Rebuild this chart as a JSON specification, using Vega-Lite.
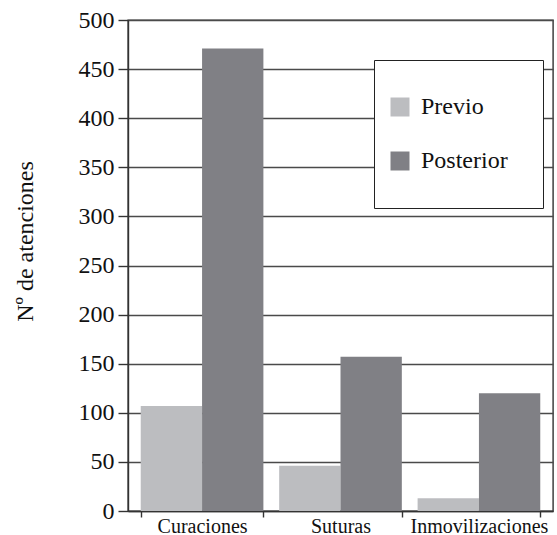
{
  "$schema": "https://vega.github.io/schema/vega-lite/v6.json",
  "description": "Nº de atenciones previo y posterior",
  "width": 425,
  "height": 491,
  "autosize": {"type": "none"},
  "padding": {"left": 128, "top": 20, "right": 4, "bottom": 24},
  "data": {
    "values": [
      {"tipo": "Curaciones", "momento": "Previo", "atenciones": 107},
      {"tipo": "Curaciones", "momento": "Posterior", "atenciones": 471},
      {"tipo": "Suturas", "momento": "Previo", "atenciones": 46},
      {"tipo": "Suturas", "momento": "Posterior", "atenciones": 157},
      {"tipo": "Inmovilizaciones", "momento": "Previo", "atenciones": 13},
      {"tipo": "Inmovilizaciones", "momento": "Posterior", "atenciones": 120}
    ]
  },
  "mark": {"type": "bar"},
  "encoding": {
    "x": {
      "field": "tipo",
      "type": "nominal",
      "sort": ["Curaciones", "Suturas", "Inmovilizaciones"],
      "scale": {"paddingInner": 0.114, "paddingOuter": 0.092},
      "axis": {
        "title": null,
        "labelAngle": 0,
        "tickBand": "extent",
        "tickSize": 6,
        "labelPadding": -1,
        "labelFontSize": 20,
        "labelFont": "Liberation Serif",
        "grid": false
      }
    },
    "xOffset": {"field": "momento", "sort": ["Previo", "Posterior"]},
    "y": {
      "field": "atenciones",
      "type": "quantitative",
      "scale": {"domain": [0, 500], "nice": false},
      "axis": {
        "title": "Nº de atenciones",
        "values": [0, 50, 100, 150, 200, 250, 300, 350, 400, 450, 500],
        "tickSize": 10,
        "labelPadding": 4,
        "labelFontSize": 24,
        "labelFont": "Liberation Serif",
        "titleFont": "Liberation Serif",
        "titleFontSize": 24,
        "titleFontWeight": "normal",
        "titleX": -96,
        "titleY": 221,
        "titleBaseline": "alphabetic",
        "grid": true,
        "gridColor": "#4a4a4a",
        "gridWidth": 1.4
      }
    },
    "color": {
      "field": "momento",
      "type": "nominal",
      "sort": ["Previo", "Posterior"],
      "scale": {"domain": ["Previo", "Posterior"], "range": ["#bcbdc0", "#808085"]},
      "legend": {
        "title": null,
        "orient": "none",
        "legendX": 246,
        "legendY": 40,
        "padding": 35,
        "rowPadding": 30,
        "symbolType": "square",
        "symbolSize": 361,
        "symbolStrokeWidth": 0,
        "symbolOffset": -21,
        "labelFontSize": 24,
        "labelFont": "Liberation Serif",
        "labelOffset": 9,
        "fillColor": "white",
        "strokeColor": "#222"
      }
    }
  },
  "config": {
    "font": "Liberation Serif",
    "view": {"stroke": "#333", "strokeWidth": 1.4},
    "axis": {
      "domainColor": "#333",
      "domainWidth": 1.4,
      "tickColor": "#333",
      "tickWidth": 1.4,
      "labelColor": "#111",
      "titleColor": "#111"
    },
    "legend": {"labelColor": "#111"}
  }
}
